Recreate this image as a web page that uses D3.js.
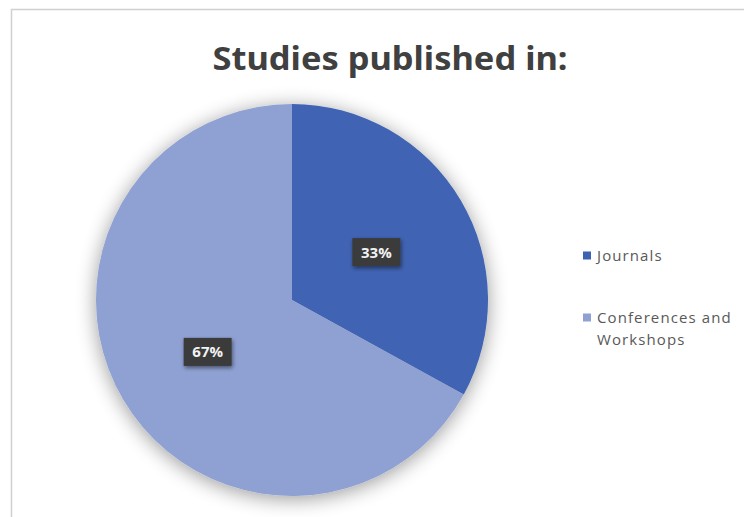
<!DOCTYPE html>
<html>
<head>
<meta charset="utf-8">
<script src="https://cdn.jsdelivr.net/npm/d3@7"></script>
<style>
  html, body { margin: 0; padding: 0; background: #ffffff; }
  svg { display: block; }
</style>
</head>
<body>
<svg id="chart" width="744" height="517"></svg>
<script>
const categories = ["Journals", "Conferences and Workshops"];
const legendLines = [["Journals"], ["Conferences and", "Workshops"]];
const values = [33, 67];
const sliceColors = ["#3f63b3", "#8fa1d3"];
const titleText = "Studies published in:";

const svg = d3.select("#chart");
const W = 744, H = 517;

// chart border
svg.append("rect")
  .attr("x", 11.5).attr("y", 9.5)
  .attr("width", W + 20).attr("height", H + 20)
  .attr("fill", "#ffffff")
  .attr("stroke", "#d0d0d0").attr("stroke-width", 1.5);

// title
svg.append("text")
  .attr("x", 390).attr("y", 70)
  .attr("text-anchor", "middle")
  .attr("font-family", "'Noto Sans', 'Open Sans', sans-serif")
  .attr("font-weight", "bold")
  .attr("font-size", 32)
  .attr("fill", "#404040")
  .attr("textLength", 355)
  .attr("lengthAdjust", "spacingAndGlyphs")
  .text(titleText);

// shadow filter
const defs = svg.append("defs");
const f = defs.append("filter").attr("id", "shadow")
  .attr("x", "-30%").attr("y", "-30%").attr("width", "160%").attr("height", "160%");
f.append("feGaussianBlur").attr("in", "SourceAlpha").attr("stdDeviation", 10).attr("result", "blur");
f.append("feOffset").attr("in", "blur").attr("dx", 0).attr("dy", 3).attr("result", "off");
f.append("feComponentTransfer").attr("in", "off").attr("result", "soft")
  .append("feFuncA").attr("type", "linear").attr("slope", 0.4);
const merge = f.append("feMerge");
merge.append("feMergeNode").attr("in", "soft");
merge.append("feMergeNode").attr("in", "SourceGraphic");

const lf = defs.append("filter").attr("id", "lshadow")
  .attr("x", "-40%").attr("y", "-40%").attr("width", "180%").attr("height", "180%");
lf.append("feGaussianBlur").attr("in", "SourceAlpha").attr("stdDeviation", 2).attr("result", "b");
lf.append("feOffset").attr("in", "b").attr("dx", 1).attr("dy", 2).attr("result", "o");
lf.append("feComponentTransfer").attr("in", "o").attr("result", "s")
  .append("feFuncA").attr("type", "linear").attr("slope", 0.5);
const lm = lf.append("feMerge");
lm.append("feMergeNode").attr("in", "s");
lm.append("feMergeNode").attr("in", "SourceGraphic");

const cx = 292, cy = 300, R = 196;
const pie = d3.pie().sort(null).value(d => d)(values);
const arc = d3.arc().innerRadius(0).outerRadius(R);

const g = svg.append("g").attr("transform", `translate(${cx},${cy})`);
g.append("g").attr("filter", "url(#shadow)")
  .selectAll("path").data(pie).join("path")
  .attr("d", arc)
  .attr("fill", (d, i) => sliceColors[i]);

// data labels
const fmt = d => Math.round(d.data) + "%";
const lbl = g.selectAll("g.lbl").data(pie).join("g")
  .attr("class", "lbl")
  .attr("transform", d => { const c = arc.centroid(d); return `translate(${c[0]},${c[1] + 2})`; });
lbl.append("rect")
  .attr("x", -24).attr("y", -14).attr("width", 48).attr("height", 28)
  .attr("fill", "#3a3a3a")
  .attr("filter", "url(#lshadow)");
lbl.append("text")
  .attr("text-anchor", "middle").attr("dy", "0.36em")
  .attr("font-family", "'Open Sans', 'Noto Sans', sans-serif")
  .attr("font-weight", "bold").attr("font-size", 15)
  .attr("fill", "#f2f2f2")
  .text(fmt);

// legend
const legendY = [256, 318];
const leg = svg.append("g").selectAll("g").data(categories).join("g")
  .attr("transform", (d, i) => `translate(583,${legendY[i]})`);
leg.append("rect")
  .attr("x", 0).attr("y", -4.5).attr("width", 8).attr("height", 8)
  .attr("fill", (d, i) => sliceColors[i]);
leg.each(function(d, i) {
  const t = d3.select(this).append("text")
    .attr("x", 14).attr("y", 0)
    .attr("font-family", "'Open Sans', 'Noto Sans', sans-serif")
    .attr("font-size", 15)
    .attr("letter-spacing", 1.1)
    .attr("fill", "#595959");
  legendLines[i].forEach((line, k) => {
    t.append("tspan").attr("x", 14).attr("dy", k === 0 ? "0.35em" : 22).text(line);
  });
});
</script>
</body>
</html>
